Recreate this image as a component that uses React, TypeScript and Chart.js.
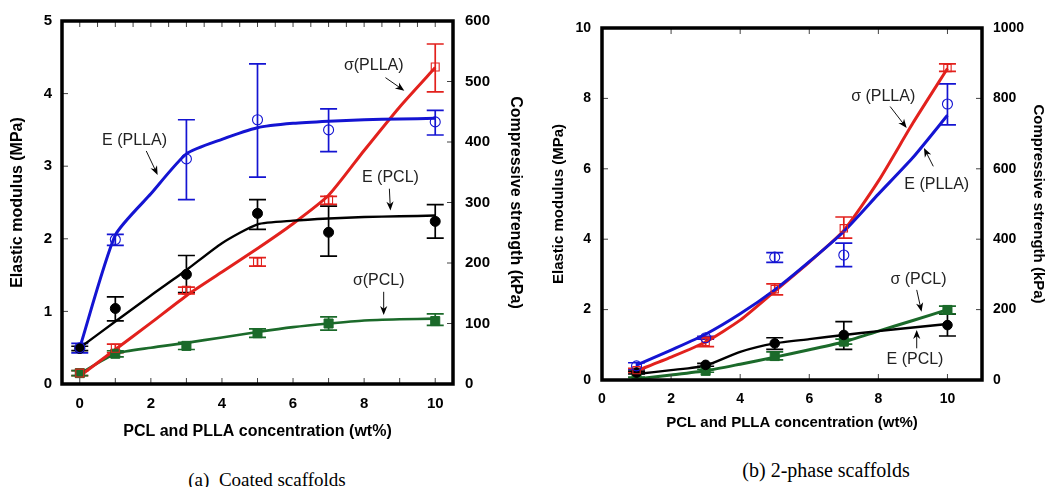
import React, { useEffect, useRef } from 'react';
import { Chart, registerables } from 'chart.js';

Chart.register(...registerables);

const SANS = '"Liberation Sans", Arial, Helvetica, sans-serif';
const SERIF = '"Liberation Serif", "Times New Roman", Times, serif';

const BLUE = '#1414d2';
const RED = '#e2211d';
const BLACK = '#000000';
const GREEN = '#1b6a2a';

// ---------------- (a) Coated scaffolds ----------------
const X_A = [0, 1, 3, 5, 7, 10];
// Elastic modulus (MPa), left axis
const E_PLLA_A = [0.50, 1.99, 3.10, 3.64, 3.50, 3.61];
const E_PLLA_A_HI = [0.56, 2.06, 3.64, 4.41, 3.79, 3.77];
const E_PLLA_A_LO = [0.43, 1.91, 2.54, 2.85, 3.20, 3.43];
const E_PCL_A = [0.49, 1.04, 1.51, 2.35, 2.09, 2.24];
const E_PCL_A_HI = [0.52, 1.20, 1.77, 2.54, 2.45, 2.47];
const E_PCL_A_LO = [0.46, 0.87, 1.26, 2.13, 1.76, 2.01];
// Compressive strength (kPa), right axis
const S_PLLA_A = [18, 59, 155, 202, 304, 524];
const S_PLLA_A_HI = [22, 66, 160, 209, 310, 562];
const S_PLLA_A_LO = [14, 52, 149, 195, 297, 483];
const S_PCL_A = [18, 50, 63, 84, 100, 104];
const S_PCL_A_HI = [22, 55, 69, 91, 111, 116];
const S_PCL_A_LO = [14, 45, 57, 77, 89, 97];
// fitted curves
const FIT_X_A = [0, 1, 2, 3, 4, 5, 6, 7, 8, 9, 10];
const E_PLLA_FIT_A = [0.50, 2.05, 2.62, 3.17, 3.37, 3.53, 3.59, 3.62, 3.64, 3.65, 3.66];
const E_PCL_FIT_A = [0.50, 0.86, 1.22, 1.57, 1.94, 2.20, 2.25, 2.28, 2.30, 2.31, 2.32];
const S_PLLA_FIT_A = [13, 57, 101, 146, 185, 224, 265, 312, 386, 458, 523];
const S_PCL_FIT_A = [17, 50, 60, 68, 77, 86, 94, 100, 105, 107, 108];
// ticks
const X_TICKS_A = [0, 2, 4, 6, 8, 10];
const YL_TICKS_A = [0, 1, 2, 3, 4, 5];
const YR_TICKS_A = [0, 100, 200, 300, 400, 500, 600];
const X_TOP_MARKS_A = [0, 0.5, 1, 1.5, 2, 2.5, 3, 3.5, 4, 4.5, 5, 5.5, 6, 6.5, 7, 7.5, 8, 8.5, 9, 9.5, 10];
const X_BOT_MARKS_A = [0, 1, 2, 3, 4, 5, 6, 7, 8, 9, 10];
const YL_MARKS_A = [1, 2, 3, 4];
const YR_MARKS_A = [100, 200, 300, 400, 500];
// annotation labels (left-axis data units)
const ANN_TEXT_A = ['E (PLLA)', 'σ(PLLA)', 'E (PCL)', 'σ(PCL)'];
const ANN_POS_A = [
  [1.54, 3.35, 1.87, 3.21, 2.19, 2.88],
  [8.27, 4.38, 8.60, 4.22, 9.13, 4.04],
  [8.74, 2.84, 8.71, 2.69, 8.74, 2.39],
  [8.41, 1.43, 8.55, 1.27, 8.55, 0.95],
];

// ---------------- (b) 2-phase scaffolds ----------------
const X_B = [1, 3, 5, 7, 10];
const E_PLLA_B = [0.40, 1.20, 3.49, 3.55, 7.84];
const E_PLLA_B_HI = [0.49, 1.24, 3.62, 3.89, 8.41];
const E_PLLA_B_LO = [0.30, 1.16, 3.34, 3.22, 7.25];
const E_PCL_B = [0.21, 0.43, 1.04, 1.28, 1.56];
const E_PCL_B_HI = [0.25, 0.47, 1.20, 1.66, 1.87];
const E_PCL_B_LO = [0.17, 0.39, 0.87, 0.87, 1.25];
const S_PLLA_B = [28, 108, 258, 431, 886];
const S_PLLA_B_HI = [33, 121, 273, 463, 898];
const S_PLLA_B_LO = [21, 95, 242, 403, 877];
const S_PCL_B = [5, 26, 68, 109, 199];
const S_PCL_B_HI = [8, 30, 80, 116, 210];
const S_PCL_B_LO = [2, 22, 57, 102, 188];
const FIT_X_B = [1, 2, 3, 4, 5, 6, 7, 8, 9, 10];
const E_PLLA_FIT_B = [0.42, 0.85, 1.30, 1.88, 2.56, 3.36, 4.22, 5.28, 6.32, 7.52];
const E_PCL_FIT_B = [0.17, 0.28, 0.41, 0.80, 1.04, 1.16, 1.28, 1.39, 1.49, 1.59];
const S_PLLA_FIT_B = [26, 65, 108, 170, 252, 335, 425, 565, 730, 885];
const S_PCL_FIT_B = [3, 14, 26, 45, 65, 86, 108, 139, 169, 200];
const X_TICKS_B = [0, 2, 4, 6, 8, 10];
const YL_TICKS_B = [0, 2, 4, 6, 8, 10];
const YR_TICKS_B = [0, 200, 400, 600, 800, 1000];
const X_TOP_MARKS_B = [2, 4, 6, 8, 10];
const X_BOT_MARKS_B = [2, 4, 6, 8, 10];
const YL_MARKS_B = [2, 4, 6, 8];
const YR_MARKS_B = [200, 400, 600, 800];
const ANN_TEXT_B = ['σ (PLLA)', 'E (PLLA)', 'σ (PCL)', 'E (PCL)'];
const ANN_POS_B = [
  [8.14, 8.05, 8.34, 7.77, 8.82, 7.16],
  [9.69, 5.56, 9.59, 6.07, 9.32, 6.59],
  [9.16, 2.84, 9.11, 2.56, 9.25, 1.94],
  [9.06, 0.57, 9.11, 0.90, 9.11, 1.42],
];

const X_TITLE = 'PCL and PLLA concentration (wt%)';
const YL_TITLE = 'Elastic modulus (MPa)';
const YR_TITLE = 'Compressive strength (kPa)';

type Series = {
  axis: 'yL' | 'yR';
  color: string;
  x: number[];
  y: number[];
  hi: number[];
  lo: number[];
  fitX: number[];
  fit: number[];
  style: 'circle' | 'rect';
  filled: boolean;
  radius: number;
  lw: number;
};

type PanelDef = {
  left: number;
  w: number;
  h: number;
  padTop: number;
  yLW: number;
  yRW: number;
  xH: number;
  xMin: number;
  xMax: number;
  yLMax: number;
  yRMax: number;
  xTicks: number[];
  yLTicks: number[];
  yRTicks: number[];
  xTop: number[];
  xBot: number[];
  yLMarks: number[];
  yRMarks: number[];
  tickSize: number;
  titleSize: number;
  xTickPad: number;
  yLTickPad: number;
  yRTickPad: number;
  xTitlePad: number;
  yLTitlePad: number;
  yRTitlePad: number;
  series: Series[];
  annText: string[];
  annPos: number[][];
};

const SERIES_A: Series[] = [
  { axis: 'yL', color: BLUE, x: X_A, y: E_PLLA_A, hi: E_PLLA_A_HI, lo: E_PLLA_A_LO, fitX: FIT_X_A, fit: E_PLLA_FIT_A, style: 'circle', filled: false, radius: 5, lw: 3 },
  { axis: 'yL', color: BLACK, x: X_A, y: E_PCL_A, hi: E_PCL_A_HI, lo: E_PCL_A_LO, fitX: FIT_X_A, fit: E_PCL_FIT_A, style: 'circle', filled: true, radius: 5, lw: 2.4 },
  { axis: 'yR', color: RED, x: X_A, y: S_PLLA_A, hi: S_PLLA_A_HI, lo: S_PLLA_A_LO, fitX: FIT_X_A, fit: S_PLLA_FIT_A, style: 'rect', filled: false, radius: 5.6, lw: 3 },
  { axis: 'yR', color: GREEN, x: X_A, y: S_PCL_A, hi: S_PCL_A_HI, lo: S_PCL_A_LO, fitX: FIT_X_A, fit: S_PCL_FIT_A, style: 'rect', filled: true, radius: 6.4, lw: 2.6 },
];

const SERIES_B: Series[] = [
  { axis: 'yL', color: BLUE, x: X_B, y: E_PLLA_B, hi: E_PLLA_B_HI, lo: E_PLLA_B_LO, fitX: FIT_X_B, fit: E_PLLA_FIT_B, style: 'circle', filled: false, radius: 5, lw: 3 },
  { axis: 'yR', color: RED, x: X_B, y: S_PLLA_B, hi: S_PLLA_B_HI, lo: S_PLLA_B_LO, fitX: FIT_X_B, fit: S_PLLA_FIT_B, style: 'rect', filled: false, radius: 5.2, lw: 3 },
  { axis: 'yL', color: BLACK, x: X_B, y: E_PCL_B, hi: E_PCL_B_HI, lo: E_PCL_B_LO, fitX: FIT_X_B, fit: E_PCL_FIT_B, style: 'circle', filled: true, radius: 4.8, lw: 2.4 },
  { axis: 'yR', color: GREEN, x: X_B, y: S_PCL_B, hi: S_PCL_B_HI, lo: S_PCL_B_LO, fitX: FIT_X_B, fit: S_PCL_FIT_B, style: 'rect', filled: true, radius: 6.4, lw: 3 },
];

const PANEL_A: PanelDef = {
  left: 0, w: 530, h: 450, padTop: 20, yLW: 62, yRW: 77, xH: 66,
  xMin: -0.5, xMax: 10.5, yLMax: 5, yRMax: 600,
  xTicks: X_TICKS_A, yLTicks: YL_TICKS_A, yRTicks: YR_TICKS_A,
  xTop: X_TOP_MARKS_A, xBot: X_BOT_MARKS_A, yLMarks: YL_MARKS_A, yRMarks: YR_MARKS_A,
  tickSize: 15, titleSize: 16, xTickPad: 11, yLTickPad: 10, yRTickPad: 12,
  xTitlePad: 8.4, yLTitlePad: 8, yRTitlePad: 5.4,
  series: SERIES_A, annText: ANN_TEXT_A, annPos: ANN_POS_A,
};

const PANEL_B: PanelDef = {
  left: 530, w: 517, h: 450, padTop: 28, yLW: 72, yRW: 65, xH: 70,
  xMin: 0, xMax: 11, yLMax: 10, yRMax: 1000,
  xTicks: X_TICKS_B, yLTicks: YL_TICKS_B, yRTicks: YR_TICKS_B,
  xTop: X_TOP_MARKS_B, xBot: X_BOT_MARKS_B, yLMarks: YL_MARKS_B, yRMarks: YR_MARKS_B,
  tickSize: 14, titleSize: 15, xTickPad: 11, yLTickPad: 11, yRTickPad: 11,
  xTitlePad: 18.3, yLTitlePad: 19.8, yRTitlePad: 0,
  series: SERIES_B, annText: ANN_TEXT_B, annPos: ANN_POS_B,
};

function makeDecor(p: PanelDef) {
  return {
    id: 'decor',
    beforeDatasetsDraw(chart: any) {
      const ctx = chart.ctx as CanvasRenderingContext2D;
      const xs = chart.scales.x;
      const cap = 8.5;
      ctx.save();
      ctx.lineWidth = 1.7;
      for (const s of p.series) {
        const ys = chart.scales[s.axis];
        ctx.strokeStyle = s.color;
        for (let i = 0; i < s.x.length; i++) {
          const px = xs.getPixelForValue(s.x[i]);
          const ph = ys.getPixelForValue(s.hi[i]);
          const pl = ys.getPixelForValue(s.lo[i]);
          ctx.beginPath();
          ctx.moveTo(px, ph);
          ctx.lineTo(px, pl);
          ctx.moveTo(px - cap, ph);
          ctx.lineTo(px + cap, ph);
          ctx.moveTo(px - cap, pl);
          ctx.lineTo(px + cap, pl);
          ctx.stroke();
        }
      }
      ctx.restore();
    },
    afterDatasetsDraw(chart: any) {
      const ctx = chart.ctx as CanvasRenderingContext2D;
      const a = chart.chartArea;
      const xs = chart.scales.x;
      const yl = chart.scales.yL;
      const yr = chart.scales.yR;
      const tl = 6;
      ctx.save();
      // tick marks (inside)
      ctx.strokeStyle = '#444';
      ctx.lineWidth = 1;
      ctx.beginPath();
      for (const v of p.xTop) {
        const px = xs.getPixelForValue(v);
        ctx.moveTo(px, a.top);
        ctx.lineTo(px, a.top + tl);
      }
      for (const v of p.xBot) {
        const px = xs.getPixelForValue(v);
        ctx.moveTo(px, a.bottom);
        ctx.lineTo(px, a.bottom - tl);
      }
      for (const v of p.yLMarks) {
        const py = yl.getPixelForValue(v);
        ctx.moveTo(a.left, py);
        ctx.lineTo(a.left + tl, py);
      }
      for (const v of p.yRMarks) {
        const py = yr.getPixelForValue(v);
        ctx.moveTo(a.right, py);
        ctx.lineTo(a.right - tl, py);
      }
      ctx.stroke();
      // frame
      ctx.strokeStyle = '#000';
      ctx.lineWidth = 3.5;
      ctx.strokeRect(a.left, a.top, a.right - a.left, a.bottom - a.top);
      // annotations
      ctx.strokeStyle = '#111';
      ctx.font = '16px ' + SANS;
      ctx.textAlign = 'center';
      ctx.textBaseline = 'middle';
      p.annText.forEach((t, i) => {
        const q = p.annPos[i];
        ctx.fillStyle = '#222';
        ctx.fillText(t, xs.getPixelForValue(q[0]), yl.getPixelForValue(q[1]));
        const x1 = xs.getPixelForValue(q[2]);
        const y1 = yl.getPixelForValue(q[3]);
        const x2 = xs.getPixelForValue(q[4]);
        const y2 = yl.getPixelForValue(q[5]);
        const ang = Math.atan2(y2 - y1, x2 - x1);
        const hl = 9;
        const hw = 3.6;
        const c = Math.cos(ang);
        const s = Math.sin(ang);
        ctx.lineWidth = 1;
        ctx.beginPath();
        ctx.moveTo(x1, y1);
        ctx.lineTo(x2 - c * hl * 0.6, y2 - s * hl * 0.6);
        ctx.stroke();
        ctx.fillStyle = '#000';
        ctx.beginPath();
        ctx.moveTo(x2, y2);
        ctx.lineTo(x2 - c * hl - s * hw, y2 - s * hl + c * hw);
        ctx.lineTo(x2 - c * hl * 0.7, y2 - s * hl * 0.7);
        ctx.lineTo(x2 - c * hl + s * hw, y2 - s * hl - c * hw);
        ctx.closePath();
        ctx.fill();
      });
      ctx.restore();
    },
  };
}

function buildConfig(p: PanelDef): any {
  const fitSets = p.series.map((s) => ({
    type: 'line',
    data: s.fitX.map((x, i) => ({ x, y: s.fit[i] })),
    yAxisID: s.axis,
    borderColor: s.color,
    borderWidth: s.lw,
    pointRadius: 0,
    pointHoverRadius: 0,
    fill: false,
    tension: 0.2,
    borderJoinStyle: 'round',
    order: 2,
  }));
  const markerSets = p.series.map((s) => ({
    type: 'line',
    data: s.x.map((x, i) => ({ x, y: s.y[i] })),
    yAxisID: s.axis,
    showLine: false,
    pointStyle: s.style,
    pointRadius: s.radius,
    pointHoverRadius: s.radius,
    pointBackgroundColor: s.filled ? s.color : 'rgba(0,0,0,0)',
    pointBorderColor: s.color,
    pointBorderWidth: s.filled ? 1 : 1.1,
    order: 1,
  }));
  const tickFont = { family: SANS, size: p.tickSize, weight: 'bold' as const };
  const titleFont = { family: SANS, size: p.titleSize, weight: 'bold' as const };
  const fmt = (v: any) => String(v);
  return {
    type: 'line',
    data: { datasets: [...fitSets, ...markerSets] },
    options: {
      animation: false,
      responsive: false,
      devicePixelRatio: 1,
      events: [],
      layout: { padding: { top: p.padTop, left: 0, right: 0, bottom: 0 } },
      plugins: { legend: { display: false }, tooltip: { enabled: false } },
      scales: {
        x: {
          type: 'linear',
          position: 'bottom',
          min: p.xMin,
          max: p.xMax,
          grid: { display: false, drawTicks: false },
          border: { display: false },
          ticks: { font: tickFont, color: '#000', padding: p.xTickPad, callback: fmt, maxRotation: 0 },
          afterBuildTicks: (sc: any) => {
            sc.ticks = p.xTicks.map((v) => ({ value: v }));
          },
          afterFit: (sc: any) => {
            sc.height = p.xH;
          },
          title: { display: true, text: X_TITLE, font: titleFont, color: '#000', padding: { top: 0, bottom: p.xTitlePad } },
        },
        yL: {
          type: 'linear',
          position: 'left',
          min: 0,
          max: p.yLMax,
          grid: { display: false, drawTicks: false },
          border: { display: false },
          ticks: { font: tickFont, color: '#000', padding: p.yLTickPad, callback: fmt },
          afterBuildTicks: (sc: any) => {
            sc.ticks = p.yLTicks.map((v) => ({ value: v }));
          },
          afterFit: (sc: any) => {
            sc.width = p.yLW;
          },
          title: { display: true, text: YL_TITLE, font: titleFont, color: '#000', padding: { top: p.yLTitlePad, bottom: 0 } },
        },
        yR: {
          type: 'linear',
          position: 'right',
          min: 0,
          max: p.yRMax,
          grid: { display: false, drawTicks: false },
          border: { display: false },
          ticks: { font: tickFont, color: '#000', padding: p.yRTickPad, callback: fmt },
          afterBuildTicks: (sc: any) => {
            sc.ticks = p.yRTicks.map((v) => ({ value: v }));
          },
          afterFit: (sc: any) => {
            sc.width = p.yRW;
          },
          title: { display: true, text: YR_TITLE, font: titleFont, color: '#000', padding: { top: p.yRTitlePad, bottom: 0 } },
        },
      },
    },
    plugins: [makeDecor(p)],
  };
}

function Panel({ def }: { def: PanelDef }) {
  const ref = useRef<HTMLCanvasElement>(null);
  useEffect(() => {
    if (!ref.current) return;
    const chart = new Chart(ref.current, buildConfig(def));
    return () => chart.destroy();
  }, [def]);
  return (
    <canvas
      ref={ref}
      width={def.w}
      height={def.h}
      style={{ position: 'absolute', left: def.left, top: 0, width: def.w, height: def.h }}
    />
  );
}

export default function App() {
  return (
    <div
      style={{
        position: 'fixed',
        left: 0,
        top: 0,
        width: 1047,
        height: 487,
        background: '#fff',
        overflow: 'hidden',
      }}
    >
      <Panel def={PANEL_A} />
      <Panel def={PANEL_B} />
      <div
        style={{
          position: 'absolute',
          left: 117,
          top: 470,
          width: 300,
          textAlign: 'center',
          font: '19px ' + SERIF,
          lineHeight: '20px',
          whiteSpace: 'pre',
          color: '#000',
        }}
      >
        {'(a)  Coated scaffolds'}
      </div>
      <div
        style={{
          position: 'absolute',
          left: 676,
          top: 460,
          width: 300,
          textAlign: 'center',
          font: '20px ' + SERIF,
          lineHeight: '20px',
          whiteSpace: 'pre',
          color: '#000',
        }}
      >
        {'(b) 2-phase scaffolds'}
      </div>
    </div>
  );
}
